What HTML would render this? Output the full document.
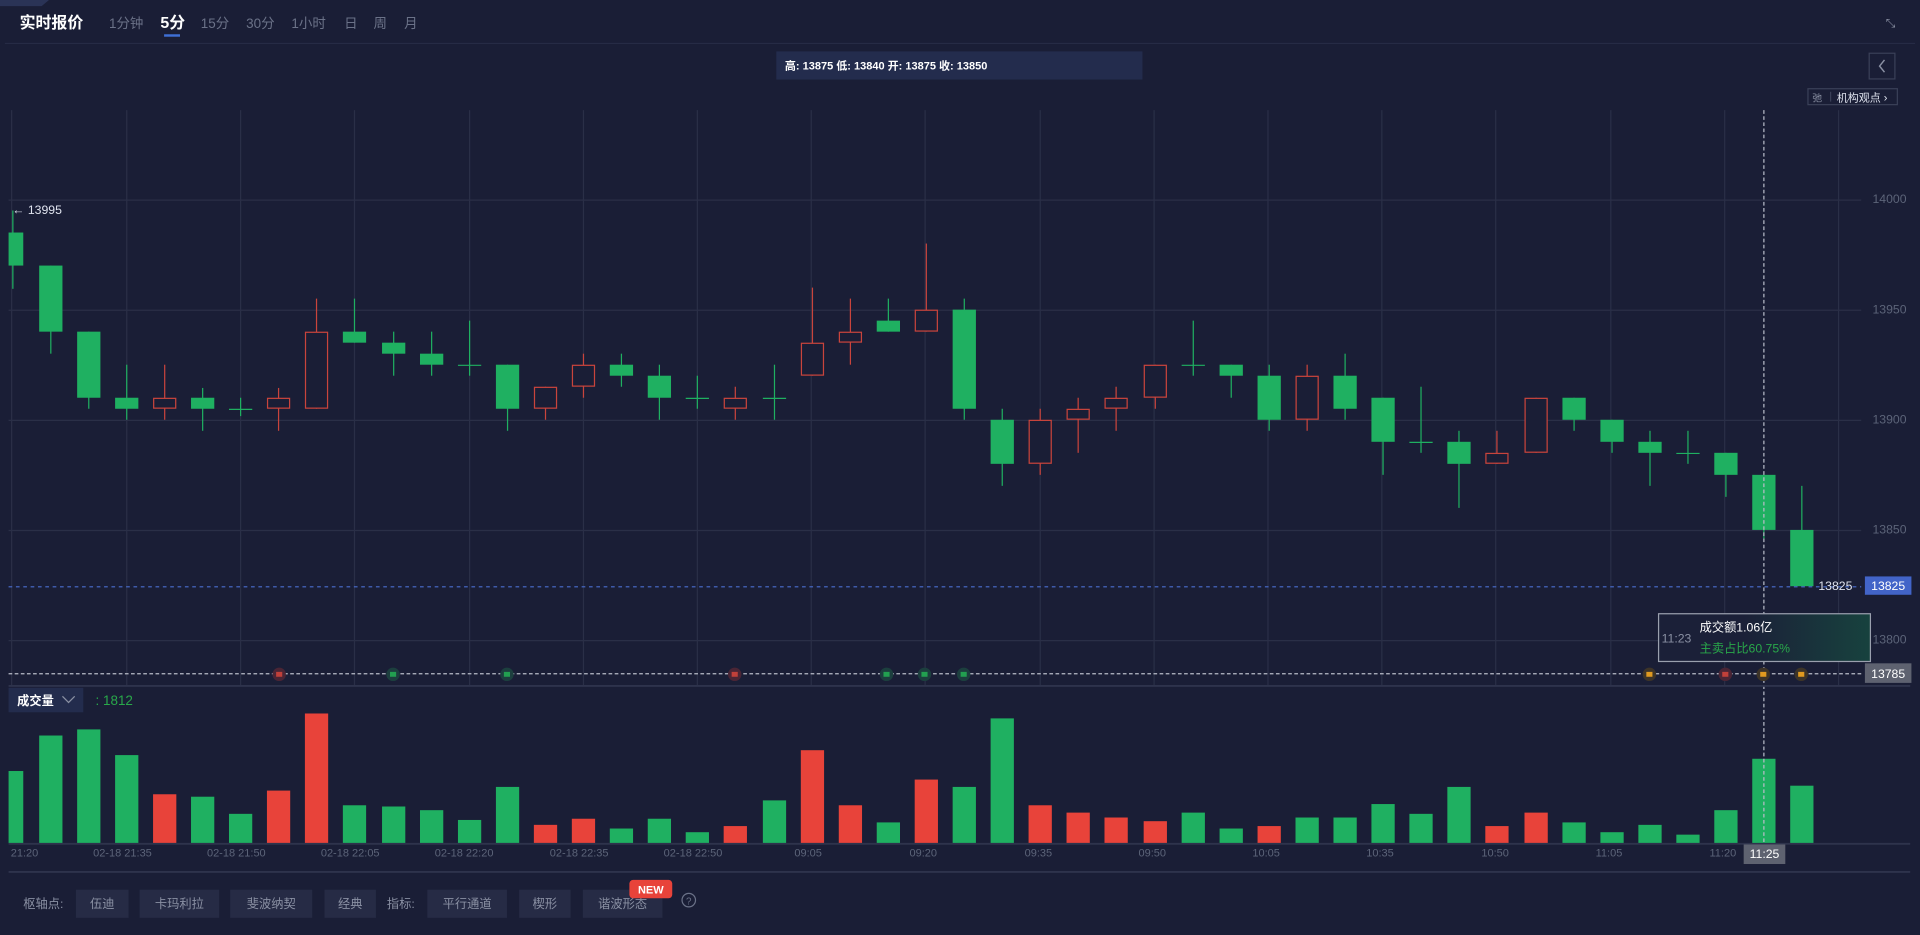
<!DOCTYPE html>
<html><head><meta charset="utf-8"><style>
html,body{margin:0;padding:0;background:#1a1e36;overflow:hidden}
svg{display:block}
text{font-family:"Liberation Sans","Noto Sans CJK SC",sans-serif}
</style></head><body>
<svg id="s" width="1920" height="935" viewBox="0 0 1568 764" preserveAspectRatio="none" xmlns="http://www.w3.org/2000/svg">
<rect width="1568" height="764" fill="#1a1e36"/>
<path d="M0 0h40l-6 5H0z" fill="#2a3356"/>
<text x="16" y="23" fill="#fff" font-size="13" font-weight="bold">实时报价</text>
<g fill="#6b7288" font-size="11">
<text x="89" y="23">1分钟</text><text x="164" y="23">15分</text><text x="201" y="23">30分</text><text x="238" y="23">1小时</text><text x="281" y="23">日</text><text x="305" y="23">周</text><text x="330" y="23">月</text></g>
<text x="131" y="23" fill="#fff" font-size="13" font-weight="bold">5分</text>
<rect x="134" y="28" width="13" height="2" fill="#3f6fd6"/>
<text x="1540" y="22" fill="#8a90a3" font-size="10">⤡</text>
<line x1="4" y1="35.5" x2="1564" y2="35.5" stroke="#262b45"/>
<rect x="634" y="42" width="299" height="23" fill="#232c4d"/>
<text x="641" y="57" fill="#fff" font-size="9" font-weight="bold">高: 13875 低: 13840 开: 13875 收: 13850</text>
<rect x="1526.5" y="43.5" width="21" height="21" fill="none" stroke="#3a4058"/>
<path d="M1539 49l-4 5 4 5" fill="none" stroke="#8a90a3" stroke-width="1.2"/>
<rect x="1476.5" y="72.5" width="73" height="13" fill="none" stroke="#3a4058"/>
<text x="1480" y="83" fill="#8a90a3" font-size="8">弛</text>
<line x1="1495" y1="75" x2="1495" y2="83" stroke="#3a4058"/>
<text x="1500" y="83" fill="#dfe3ee" font-size="9">机构观点 ›</text>
<g id="grid" stroke="#2a2f47" stroke-width="1"></g>
<g fill="#5c6479" font-size="10" text-anchor="end">
<text x="1557" y="166">14000</text><text x="1557" y="256">13950</text><text x="1557" y="346">13900</text><text x="1557" y="436">13850</text><text x="1557" y="526">13800</text></g>
<g id="c"></g>
<g id="v"></g>
<text x="10" y="175" fill="#dfe3ee" font-size="10">← 13995</text>
<line x1="7" y1="479.5" x2="1520" y2="479.5" stroke="#4a6fd0" stroke-dasharray="3,3"/>
<text x="1485" y="482" fill="#dfe3ee" font-size="10">13825</text>
<rect x="1523" y="471" width="38" height="15" fill="#4264c8"/>
<text x="1542" y="482" fill="#fff" font-size="10" text-anchor="middle">13825</text>
<line x1="7" y1="550.5" x2="1520" y2="550.5" stroke="#b8bcc8" stroke-dasharray="3,2"/>
<line x1="1440.5" y1="90" x2="1440.5" y2="690" stroke="#b8bcc8" stroke-dasharray="3,2"/>
<rect x="1523" y="542" width="38" height="16" fill="#5e6270"/>
<text x="1542" y="554" fill="#fff" font-size="10" text-anchor="middle">13785</text>
<defs><linearGradient id="tg" x1="0" x2="1"><stop offset="0.4" stop-color="#1b2038"/><stop offset="1" stop-color="#17423e"/></linearGradient></defs>
<rect x="1354.5" y="501.5" width="173" height="39" fill="url(#tg)" stroke="#9aa0ae"/>
<text x="1357" y="525" fill="#8a90a3" font-size="10">11:23</text>
<text x="1388" y="516" fill="#fff" font-size="10">成交额1.06亿</text>
<text x="1388" y="533" fill="#29a84a" font-size="10">主卖占比60.75%</text>
<g id="mk"></g>
<line x1="7" y1="560.5" x2="1560" y2="560.5" stroke="#2e334c" stroke-width="1.5"/>
<rect x="7" y="562" width="61" height="20" fill="#232c4d"/>
<text x="14" y="576" fill="#fff" font-size="10" font-weight="bold">成交量</text>
<path d="M51 569l5 5 5-5" fill="none" stroke="#8a90a3"/>
<text x="78" y="576" fill="#29a84a" font-size="11">: 1812</text>
<line x1="7" y1="689.5" x2="1560" y2="689.5" stroke="#2e334c" stroke-width="1.5"/>
<g fill="#5c6479" font-size="9" text-anchor="middle">
<text x="20" y="700">21:20</text><text x="100" y="700">02-18 21:35</text><text x="193" y="700">02-18 21:50</text><text x="286" y="700">02-18 22:05</text><text x="379" y="700">02-18 22:20</text><text x="473" y="700">02-18 22:35</text><text x="566" y="700">02-18 22:50</text><text x="660" y="700">09:05</text><text x="754" y="700">09:20</text><text x="848" y="700">09:35</text><text x="941" y="700">09:50</text><text x="1034" y="700">10:05</text><text x="1127" y="700">10:35</text><text x="1221" y="700">10:50</text><text x="1314" y="700">11:05</text><text x="1407" y="700">11:20</text></g>
<rect x="1424" y="690" width="34" height="16" fill="#5e6270"/>
<text x="1441" y="701" fill="#fff" font-size="10" text-anchor="middle">11:25</text>
<line x1="7" y1="712.5" x2="1560" y2="712.5" stroke="#2e334c" stroke-width="1.5"/>
<g font-size="10">
<text x="19" y="742" fill="#8a90a3">枢轴点:</text>
<text x="316" y="742" fill="#8a90a3">指标:</text></g>
<g id="btn"></g>
<rect x="514" y="719" width="35" height="15" rx="3" fill="#e8433a"/>
<text x="531.5" y="730" fill="#fff" font-size="9" font-weight="bold" text-anchor="middle">NEW</text>
<circle cx="562.5" cy="735.5" r="5.5" fill="none" stroke="#6b7288"/>
<text x="562.5" y="739" fill="#6b7288" font-size="8" text-anchor="middle">?</text>
</svg>
<script>
var NS="http://www.w3.org/2000/svg";
function el(p,t,a,txt){var e=document.createElementNS(NS,t);for(var k in a)e.setAttribute(k,a[k]);if(txt)e.textContent=txt;document.getElementById(p).appendChild(e);return e;}
var vx=[9,103,196,289,383,476,569,662,755,849,942,1035,1128,1221,1315,1408,1501];
vx.forEach(function(x){el("grid","line",{x1:x+.5,y1:90,x2:x+.5,y2:560});});
[163,253,343,433,523].forEach(function(y){el("grid","line",{x1:7,y1:y+.5,x2:1520,y2:y+.5});});
var G="#1fb061",R="#e8433a",RH="#c9443c";
var C=[["g",190,217,172,236],["g",217,271,217,289],["g",271,325,271,334],["g",325,334,298,343],["r",325,334,298,343],["g",325,334,317,352],["g",334,334,325,340],["r",325,334,317,352],["r",271,334,244,334],["g",271,280,244,280],["g",280,289,271,307],["g",289,298,271,307],["g",298,298,262,307],["g",298,334,298,352],["r",316,334,316,343],["r",298,316,289,325],["g",298,307,289,316],["g",307,325,298,343],["g",325,325,307,334],["r",325,334,316,343],["g",325,325,298,343],["r",280,307,235,307],["r",271,280,244,298],["g",262,271,244,271],["r",253,271,199,271],["g",253,334,244,343],["g",343,379,334,397],["r",343,379,334,388],["r",334,343,325,370],["r",325,334,316,352],["r",298,325,298,334],["g",298,298,262,307],["g",298,307,298,325],["g",307,343,298,352],["r",307,343,298,352],["g",307,334,289,343],["g",325,361,325,388],["g",361,361,316,370],["g",361,379,352,415],["r",370,379,352,379],["r",325,370,325,370],["g",325,343,325,352],["g",343,361,343,370],["g",361,370,352,397],["g",370,370,352,379],["g",370,388,370,406],["g",388,433,388,440],["g",433,479,397,479]];
var V=[[630,"g"],[601,"g"],[596,"g"],[617,"g"],[649,"r"],[651,"g"],[665,"g"],[646,"r"],[583,"r"],[658,"g"],[659,"g"],[662,"g"],[670,"g"],[643,"g"],[674,"r"],[669,"r"],[677,"g"],[669,"g"],[680,"g"],[675,"r"],[654,"g"],[613,"r"],[658,"r"],[672,"g"],[637,"r"],[643,"g"],[587,"g"],[658,"r"],[664,"r"],[668,"r"],[671,"r"],[664,"g"],[677,"g"],[675,"r"],[668,"g"],[668,"g"],[657,"g"],[665,"g"],[643,"g"],[675,"r"],[664,"r"],[672,"g"],[680,"g"],[674,"g"],[682,"g"],[662,"g"],[620,"g"],[642,"g"]];
C.forEach(function(c,i){
 var cx=Math.round(9.5+31.1*i)+.5, w=19, x0=cx-9.5;
 if(i==0){x0=7;w=12;}
 var col=c[0]=="g"?G:RH;
 el("c","line",{x1:cx,y1:c[3],x2:cx,y2:c[4],stroke:col});
 if(c[1]==c[2]) el("c","line",{x1:x0,y1:c[1]+.5,x2:x0+w,y2:c[1]+.5,stroke:col});
 else if(c[0]=="g") el("c","rect",{x:x0,y:c[1],width:w,height:c[2]-c[1],fill:G});
 else el("c","rect",{x:x0+.5,y:c[1]+.5,width:w-1,height:c[2]-c[1]-1,fill:"#1a1e36",stroke:RH});
 var v=V[i];
 el("v","rect",{x:x0,y:v[0],width:w,height:689-v[0],fill:v[1]=="g"?G:R});
});
var M=[[228,"r"],[321,"g"],[414,"g"],[600,"r"],[724,"g"],[755,"g"],[787,"g"],[1347,"o"],[1409,"r"],[1440,"o"],[1471,"o"]];
M.forEach(function(m){
 var f=m[1]=="r"?"#4a2535":m[1]=="g"?"#1c3f3e":"#3d3428";
 var s=m[1]=="r"?"#c0403a":m[1]=="g"?"#22a050":"#e09a20";
 el("mk","circle",{cx:m[0],cy:551,r:5.5,fill:f});
 el("mk","rect",{x:m[0]-2.5,y:549,width:5,height:4,fill:s});
});
var B=[[62,105,"伍迪"],[114,179,"卡玛利拉"],[188,255,"斐波纳契"],[265,307,"经典"],[349,414,"平行通道"],[424,466,"楔形"],[476,541,"谐波形态"]];
B.forEach(function(b){
 el("btn","rect",{x:b[0],y:727,width:b[1]-b[0],height:23,fill:"#262b45"});
 el("btn","text",{x:(b[0]+b[1])/2,y:742,fill:"#8a90a3","font-size":10,"text-anchor":"middle"},b[2]);
});
</script>
</body></html>
